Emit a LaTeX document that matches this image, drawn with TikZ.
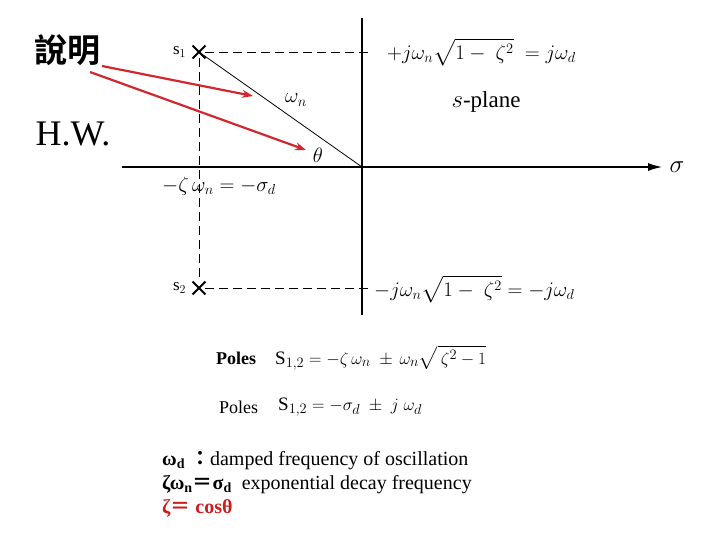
\documentclass[tikz,border=0pt]{standalone}
\usepackage{amsmath}
\usepackage{amssymb}
\usepackage{fontspec}
\setmainfont{Liberation Serif}
\newfontfamily\cjkfont{Noto Sans CJK TC}[BoldFont={Noto Sans CJK TC Bold}]
\usepackage{tikz}
\usetikzlibrary{positioning, arrows.meta, shapes.misc}
\definecolor{arrowred}{RGB}{210,40,45}
\definecolor{notered}{RGB}{200,30,30}
\tikzset{
  pole/.style={cross out, draw, line width=1.8pt, minimum size=11pt, inner sep=0pt},
  guide/.style={dashed, dash pattern=on 9pt off 5pt, line width=0.7pt},
  axis/.style={line width=1.6pt},
  callout/.style={arrowred, line width=2.2pt, -{Stealth[length=11pt,width=8pt]}},
  eqn/.style={font=\fontsize{22}{26}\selectfont, inner sep=1pt},
  fsize/.style={font=\fontsize{#1}{#1}\selectfont}
}

\begin{document}
\begin{tikzpicture}[x=1pt, y=-1pt]
\useasboundingbox (0,0) rectangle (720,540);

% axes
\coordinate (o) at (362,167);
\coordinate (xl) at (122,167);
\coordinate (xr) at (662,167);
\coordinate (yt) at (362,18);
\coordinate (yb) at (362,315);
\draw[line width=1.2pt, -{Latex[length=14pt,width=8pt]}] (xl) -- (xr);
\draw[axis] (yt) -- (yb);
\node[fsize=24, anchor=west] (sig) at (666,167) {$\sigma$};

% poles
\node[pole] (s1) at (199,52) {};
\node[pole] (s2) at (199,288) {};
\node[fsize=17, left=3pt of s1] (s1lab) {$\mathrm{s}_1$};
\node[fsize=17, left=3pt of s2] (s2lab) {$\mathrm{s}_2$};
\coordinate (d1) at (370,52);
\coordinate (d2) at (370,288);
\draw[guide] (s1) -- (d1);
\draw[guide] (s2) -- (d2);
\draw[guide] (s1) -- (s2);
\draw[line width=0.8pt] (s1.center) -- (o);

% labels on the plane
\node[eqn, anchor=west] (wd) at (386,52) {$+j\omega_n\sqrt{1-\ \zeta^2}\ =j\omega_d$};
\node[eqn, anchor=west] (mwd) at (373,289) {$-j\omega_n\sqrt{1-\ \zeta^2}=-j\omega_d$};
\node[fsize=23] (plane) at (486,102) {$s$-plane};
\node[eqn] (wn) at (296,100) {$\omega_n$};
\node[eqn] (th) at (318,155) {$\theta$};
\node[eqn] (sd) at (219,186) {$-\zeta\,\omega_n=-\sigma_d$};

% side notes
\node[font={\fontsize{33}{33}\selectfont\cjkfont\bfseries}] (note) at (67,50) {說明};
\node[fsize=36] (hw) at (73,134) {H.W.};
\coordinate (tip1) at (253,96);
\coordinate (tip2) at (306,150);
\draw[callout] (102,66) -- (tip1);
\draw[callout] (90,72) -- (tip2);

% pole formulas
\node[fsize=18, anchor=west, inner sep=0pt] (p1) at (216,358) {\textbf{Poles}};
\node[fsize=19, anchor=west, inner sep=0pt] (e1) at (275,358) {$\mathrm{S}_{1,2}=-\zeta\,\omega_n\ \pm\,\omega_n\sqrt{\,\zeta^2-1}$};
\node[fsize=18, anchor=west, inner sep=0pt] (p2) at (219,407) {Poles};
\node[fsize=19, anchor=west, inner sep=0pt] (e2) at (278,407) {$\mathrm{S}_{1,2}=-\sigma_d\ \pm\ j\ \omega_d$};

% definitions
\node[font={\fontsize{20}{24}\selectfont}, anchor=north west, align=left, inner sep=0pt] (defs) at (162,451) {%
  \textbf{ω\textsubscript{d}} {\cjkfont\bfseries ：}damped frequency of oscillation\\
  \textbf{ζω\textsubscript{n}{\cjkfont ＝}σ\textsubscript{d}}\ \ exponential decay frequency\\
  \textcolor{notered}{\textbf{ζ{\cjkfont ＝} cosθ}}};
\end{tikzpicture}
\end{document}
